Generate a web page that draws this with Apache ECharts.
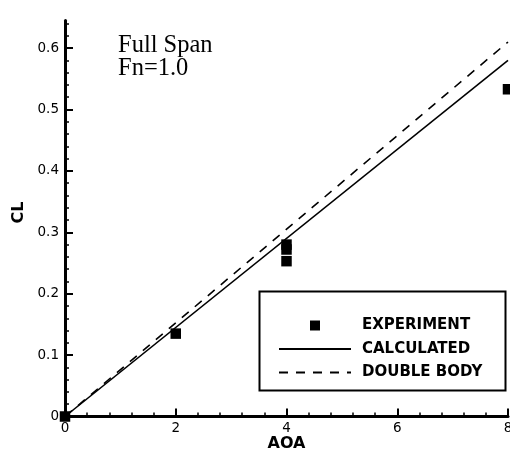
<!DOCTYPE html>
<html>
<head>
<meta charset="utf-8">
<script src="https://cdn.jsdelivr.net/npm/echarts@6/dist/echarts.min.js"></script>
<style>html,body{margin:0;padding:0;background:#fff;}#c{width:510px;height:451px;}</style>
</head>
<body>
<div id="c"></div>
<script>
// Data
var experimentAOA = [0, 2, 4, 4, 4, 8];
var experimentCL  = [0, 0.135, 0.28, 0.272, 0.253, 0.533];
var calculatedAOA = [0, 8];
var calculatedCL  = [0, 0.58];
var doubleBodyAOA = [0, 8];
var doubleBodyCL  = [0, 0.61];
var xTicks = [0, 2, 4, 6, 8];
var yTicks = [0, 0.1, 0.2, 0.3, 0.4, 0.5, 0.6];
var yMinorTicks = [0.02, 0.04, 0.06, 0.08, 0.12, 0.14, 0.16, 0.18, 0.22, 0.24, 0.26, 0.28,
                   0.32, 0.34, 0.36, 0.38, 0.42, 0.44, 0.46, 0.48, 0.52, 0.54, 0.56, 0.58, 0.62, 0.64];

function pairs(xs, ys){ return xs.map(function(x,i){ return [x, ys[i]]; }); }

var FONT = 'DejaVu Sans, Liberation Sans, Arial, sans-serif';
var YMAX = 0.645;
var chart = echarts.init(document.getElementById('c'), null, {renderer:'canvas'});
chart.setOption({
  backgroundColor: '#fff',
  animation: false,
  grid: {left: 65, right: 2, top: 20.5, bottom: 34.5, containLabel: false, outerBoundsMode: 'none'},
  xAxis: {
    type: 'value', min: 0, max: 8, interval: 2,
    name: 'AOA', nameLocation: 'middle', nameGap: 19, nameMoveOverlap: false,
    nameTextStyle: {fontFamily: FONT, fontWeight: 'bold', fontSize: 16, color: '#000', verticalAlign: 'top'},
    axisLine: {show: true, lineStyle: {color: '#000', width: 3}},
    axisTick: {show: true, inside: true, length: 8, lineStyle: {color: '#000', width: 2}},
    minorTick: {show: true, splitNumber: 5, length: 4, lineStyle: {color: '#000', width: 1.5}},
    axisLabel: {color: '#000', fontFamily: FONT, fontSize: 13.5, margin: 5, customValues: xTicks},
    splitLine: {show: false}
  },
  yAxis: [{
    type: 'value', min: 0, max: YMAX, interval: 0.1, position: 'left',
    name: 'CL', nameLocation: 'middle', nameGap: 36, nameRotate: 90,
    nameTextStyle: {fontFamily: FONT, fontWeight: 'bold', fontSize: 16, color: '#000', padding: [0, 0, 0, 12]},
    axisLine: {show: true, lineStyle: {color: '#000', width: 3}},
    axisTick: {show: true, inside: true, length: 8, lineStyle: {color: '#000', width: 2}, customValues: yTicks},
    minorTick: {show: false},
    axisLabel: {color: '#000', fontFamily: FONT, fontSize: 13.5, margin: 6, customValues: yTicks,
      formatter: function(v){ return v === 0 ? '0' : v.toFixed(1); }},
    splitLine: {show: false}
  }, {
    type: 'value', min: 0, max: YMAX, position: 'left', offset: 0,
    axisLine: {show: false},
    axisTick: {show: true, inside: true, length: 4, lineStyle: {color: '#000', width: 1.5}, customValues: yMinorTicks},
    axisLabel: {show: false},
    splitLine: {show: false}
  }],
  legend: {
    orient: 'vertical', left: 278, top: 318, padding: 0,
    itemWidth: 72, itemHeight: 10, itemGap: 8.5,
    textStyle: {fontFamily: FONT, fontWeight: 'bold', fontSize: 15, color: '#000', padding: [0,0,0,6]},
    data: [
      {name: 'EXPERIMENT', icon: 'path://M0,0L10,0L10,10L0,10Z'},
      {name: 'CALCULATED'},
      {name: 'DOUBLE BODY'}
    ]
  },
  graphic: [
    {type: 'rect', left: 257, top: 289, shape: {width: 246, height: 99},
     style: {fill: 'none', stroke: '#000', lineWidth: 2}, z: 0},
    {type: 'text', left: 118, top: 33,
     style: {text: 'Full Span\nFn=1.0', fontFamily: 'Liberation Serif, Times New Roman, serif', fontSize: 24.5, lineHeight: 23, fill: '#000'}}
  ],
  series: [
    {name: 'CALCULATED', type: 'line', data: pairs(calculatedAOA, calculatedCL), symbol: 'none',
     lineStyle: {color: '#000', width: 1.6, type: 'solid'}, itemStyle: {color: 'rgba(0,0,0,0)', borderColor: 'rgba(0,0,0,0)'}, z: 2},
    {name: 'DOUBLE BODY', type: 'line', data: pairs(doubleBodyAOA, doubleBodyCL), symbol: 'none',
     lineStyle: {color: '#000', width: 1.6, type: [9, 8]}, itemStyle: {color: 'rgba(0,0,0,0)', borderColor: 'rgba(0,0,0,0)'}, z: 2},
    {name: 'EXPERIMENT', type: 'scatter', data: pairs(experimentAOA, experimentCL), symbol: 'rect', symbolSize: 10.5,
     itemStyle: {color: '#000', opacity: 1}, z: 3}
  ]
});
</script>
</body>
</html>
